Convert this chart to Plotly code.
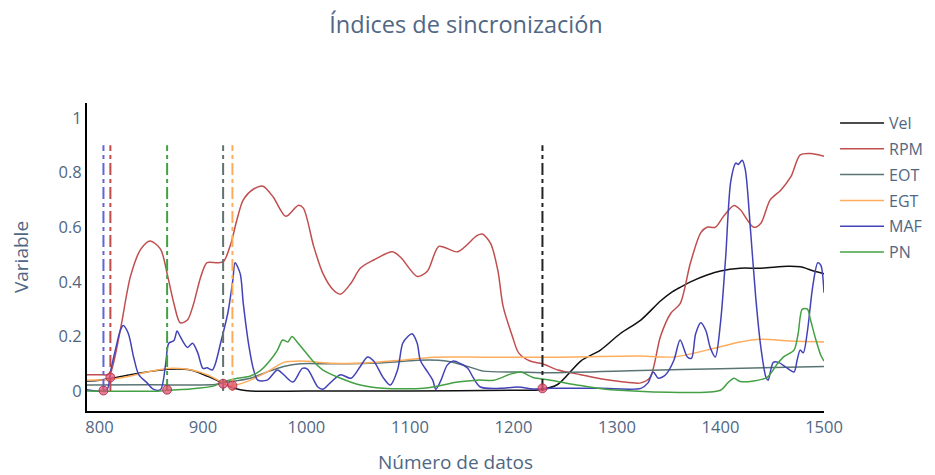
import plotly.graph_objects as go

# ---- data ----
vel_x = [788, 800, 814, 830, 846, 866, 888, 904, 917, 927, 936, 946, 1000, 1100, 1200, 1226, 1243, 1265, 1284, 1303, 1323, 1342, 1352, 1361, 1371, 1387, 1400, 1419, 1439, 1465, 1477, 1490, 1500]
vel_y = [0.037, 0.04, 0.048, 0.06, 0.07, 0.08, 0.077, 0.055, 0.033, 0.015, 0.005, 0.0, 0.0, 0.0, 0.003, 0.005, 0.025, 0.11, 0.15, 0.21, 0.26, 0.33, 0.36, 0.38, 0.40, 0.425, 0.44, 0.45, 0.45, 0.457, 0.455, 0.44, 0.43]

rpm_x = [788, 800, 808, 811, 820, 830, 840, 849, 859, 866, 872, 878, 885, 891, 898, 904, 914, 920, 927, 933, 939, 949, 958, 968, 980, 992, 997, 1007, 1016, 1026, 1033, 1043, 1052, 1065, 1083, 1091, 1107, 1117, 1128, 1146, 1165, 1170, 1178, 1185, 1190, 1199, 1205, 1216, 1228, 1243, 1265, 1284, 1303, 1323, 1332, 1342, 1352, 1361, 1371, 1381, 1387, 1395, 1403, 1413, 1419, 1432, 1439, 1448, 1458, 1468, 1477, 1487, 1500]
rpm_y = [0.06, 0.06, 0.06, 0.07, 0.22, 0.42, 0.52, 0.55, 0.52, 0.42, 0.32, 0.25, 0.26, 0.32, 0.42, 0.47, 0.47, 0.475, 0.54, 0.63, 0.70, 0.74, 0.75, 0.71, 0.64, 0.68, 0.67, 0.53, 0.43, 0.37, 0.355, 0.395, 0.45, 0.48, 0.51, 0.49, 0.42, 0.44, 0.53, 0.51, 0.57, 0.575, 0.54, 0.44, 0.31, 0.2, 0.14, 0.11, 0.10, 0.077, 0.06, 0.045, 0.035, 0.03, 0.05, 0.2, 0.285, 0.32, 0.47, 0.58, 0.6, 0.6, 0.64, 0.68, 0.665, 0.60, 0.615, 0.70, 0.735, 0.785, 0.865, 0.87, 0.86]

eot_x = [788, 850, 912, 919, 946, 962, 978, 994, 1026, 1074, 1107, 1127, 1139, 1156, 1171, 1204, 1236, 1323, 1400, 1500]
eot_y = [0.022, 0.023, 0.024, 0.03, 0.047, 0.07, 0.09, 0.1, 0.1, 0.104, 0.113, 0.113, 0.107, 0.09, 0.073, 0.07, 0.067, 0.075, 0.082, 0.09]

egt_x = [788, 810, 830, 846, 866, 878, 888, 904, 917, 924, 929, 946, 962, 978, 994, 1026, 1058, 1091, 1123, 1171, 1236, 1323, 1355, 1387, 1419, 1439, 1468, 1500]
egt_y = [0.04, 0.042, 0.055, 0.07, 0.083, 0.083, 0.078, 0.06, 0.035, 0.02, 0.02, 0.04, 0.07, 0.105, 0.11, 0.102, 0.103, 0.113, 0.124, 0.124, 0.124, 0.128, 0.125, 0.15, 0.18, 0.19, 0.183, 0.18]

maf_x = [788, 804, 808, 811, 816, 820, 823, 828, 833, 838, 846, 852, 859, 864, 867, 872, 875, 878, 885, 890, 895, 900, 904, 909, 912, 917, 924, 929, 931, 936, 939, 944, 949, 953, 962, 972, 978, 987, 996, 1001, 1011, 1016, 1023, 1033, 1043, 1052, 1059, 1065, 1074, 1081, 1088, 1093, 1098, 1102, 1107, 1110, 1117, 1122, 1125, 1130, 1136, 1142, 1149, 1156, 1161, 1168, 1187, 1204, 1219, 1236, 1284, 1323, 1330, 1335, 1340, 1347, 1355, 1361, 1368, 1372, 1376, 1381, 1386, 1390, 1395, 1400, 1405, 1410, 1415, 1417, 1421, 1424, 1429, 1434, 1439, 1444, 1446, 1451, 1456, 1463, 1471, 1474, 1477, 1480, 1484, 1489, 1494, 1497, 1500]
maf_y = [0.005, 0.0, 0.01, 0.077, 0.16, 0.22, 0.24, 0.21, 0.125, 0.06, 0.03, 0.007, 0.005, 0.1, 0.175, 0.185, 0.22, 0.2, 0.16, 0.175, 0.14, 0.083, 0.085, 0.077, 0.1, 0.175, 0.285, 0.41, 0.47, 0.43, 0.32, 0.175, 0.077, 0.04, 0.04, 0.077, 0.06, 0.033, 0.083, 0.08, 0.015, 0.007, 0.03, 0.06, 0.047, 0.09, 0.125, 0.11, 0.05, 0.022, 0.077, 0.175, 0.2, 0.21, 0.175, 0.113, 0.07, 0.04, 0.007, 0.04, 0.095, 0.11, 0.1, 0.083, 0.05, 0.015, 0.01, 0.015, 0.008, 0.01, 0.01, 0.01, 0.03, 0.07, 0.047, 0.06, 0.113, 0.187, 0.125, 0.12, 0.21, 0.25, 0.22, 0.16, 0.125, 0.25, 0.49, 0.77, 0.835, 0.83, 0.845, 0.81, 0.59, 0.345, 0.16, 0.05, 0.04, 0.105, 0.105, 0.088, 0.07, 0.113, 0.15, 0.14, 0.22, 0.38, 0.47, 0.46, 0.36]

pn_x = [788, 859, 865, 888, 910, 917, 931, 946, 956, 965, 972, 977, 982, 986, 991, 999, 1007, 1016, 1033, 1052, 1074, 1113, 1132, 1146, 1165, 1181, 1197, 1207, 1219, 1236, 1265, 1294, 1400, 1407, 1413, 1419, 1432, 1445, 1455, 1461, 1471, 1475, 1479, 1484, 1487, 1492, 1497, 1500]
pn_y = [0.0, 0.0, 0.003, 0.008, 0.018, 0.03, 0.045, 0.055, 0.077, 0.113, 0.15, 0.187, 0.18, 0.2, 0.18, 0.143, 0.107, 0.077, 0.047, 0.022, 0.01, 0.01, 0.022, 0.033, 0.04, 0.04, 0.062, 0.07, 0.05, 0.04, 0.02, 0.005, 0.003, 0.03, 0.047, 0.035, 0.037, 0.05, 0.1, 0.125, 0.15, 0.21, 0.30, 0.30, 0.26, 0.19, 0.13, 0.11]

series_names = ["Vel", "RPM", "EOT", "EGT", "MAF", "PN"]
series_colors = ["#111111", "#c14e4e", "#5a7474", "#ffad5c", "#4343b8", "#44a044"]
vline_colors = ["#222222", "#c24a4a", "#5f7373", "#ffad55", "#6464d2", "#44a044"]

# synchronization points (x of each series' sync index, value at that index)
sync_x = [1228, 810.6, 919.5, 928.5, 803.9, 865.4]
sync_y = [0.01, 0.05, 0.027, 0.02, 0.002, 0.005]
vline_top = 0.9

xs = [vel_x, rpm_x, eot_x, egt_x, maf_x, pn_x]
ys = [vel_y, rpm_y, eot_y, egt_y, maf_y, pn_y]

fig = go.Figure()
for name, col, x, y in zip(series_names, series_colors, xs, ys):
    fig.add_trace(go.Scatter(x=x, y=y, mode="lines", name=name, legendgroup=name,
                             line=dict(color=col, width=1.5, shape="spline", smoothing=0.8)))

for col, sx in zip(vline_colors, sync_x):
    fig.add_trace(go.Scatter(x=[sx, sx], y=[0, vline_top], mode="lines", showlegend=False,
                             hoverinfo="skip",
                             line=dict(color=col, width=2, dash="12px,4px,4px,4px")))

fig.add_trace(go.Scatter(x=sync_x, y=sync_y, mode="markers", showlegend=False,
                         marker=dict(size=9, color="rgba(225,80,110,0.75)",
                                     line=dict(color="rgba(160,40,70,0.8)", width=1))))

W, H = 919, 467
font_col = "#506784"
fig.update_layout(
    width=W, height=H,
    paper_bgcolor="white", plot_bgcolor="white",
    font=dict(family="Open Sans, Verdana, Arial", size=16.5, color=font_col),
    title=dict(text="Índices de sincronización", x=(458 / W), xref="container",
               y=1 - 17 / H, yref="container", yanchor="middle",
               font=dict(size=23.5, color=font_col)),
    margin=dict(l=79, r=W - 816, t=95, b=H - 403, autoexpand=False),
    legend=dict(x=1.015, y=0.99, xanchor="left", yanchor="top", font=dict(size=16),
                itemwidth=44, borderwidth=0, tracegroupgap=2),
    showlegend=True,
)
fig.update_xaxes(range=[788, 1500], tickvals=[800, 900, 1000, 1100, 1200, 1300, 1400, 1500],
                 showgrid=False, zeroline=False, showline=True, linecolor="black", linewidth=2,
                 ticks="", automargin=False,
                 title=dict(text="Número de datos", font=dict(size=19), standoff=30))
fig.update_yaxes(range=[-0.073, 1.055], tickvals=[0, 0.2, 0.4, 0.6, 0.8, 1],
                 ticktext=["0", "0.2", "0.4", "0.6", "0.8", "1"],
                 showgrid=False, zeroline=False, showline=True, linecolor="black", linewidth=2,
                 ticks="", automargin=False,
                 title=dict(text="Variable", font=dict(size=19), standoff=32))

fig.write_html("out.html")
